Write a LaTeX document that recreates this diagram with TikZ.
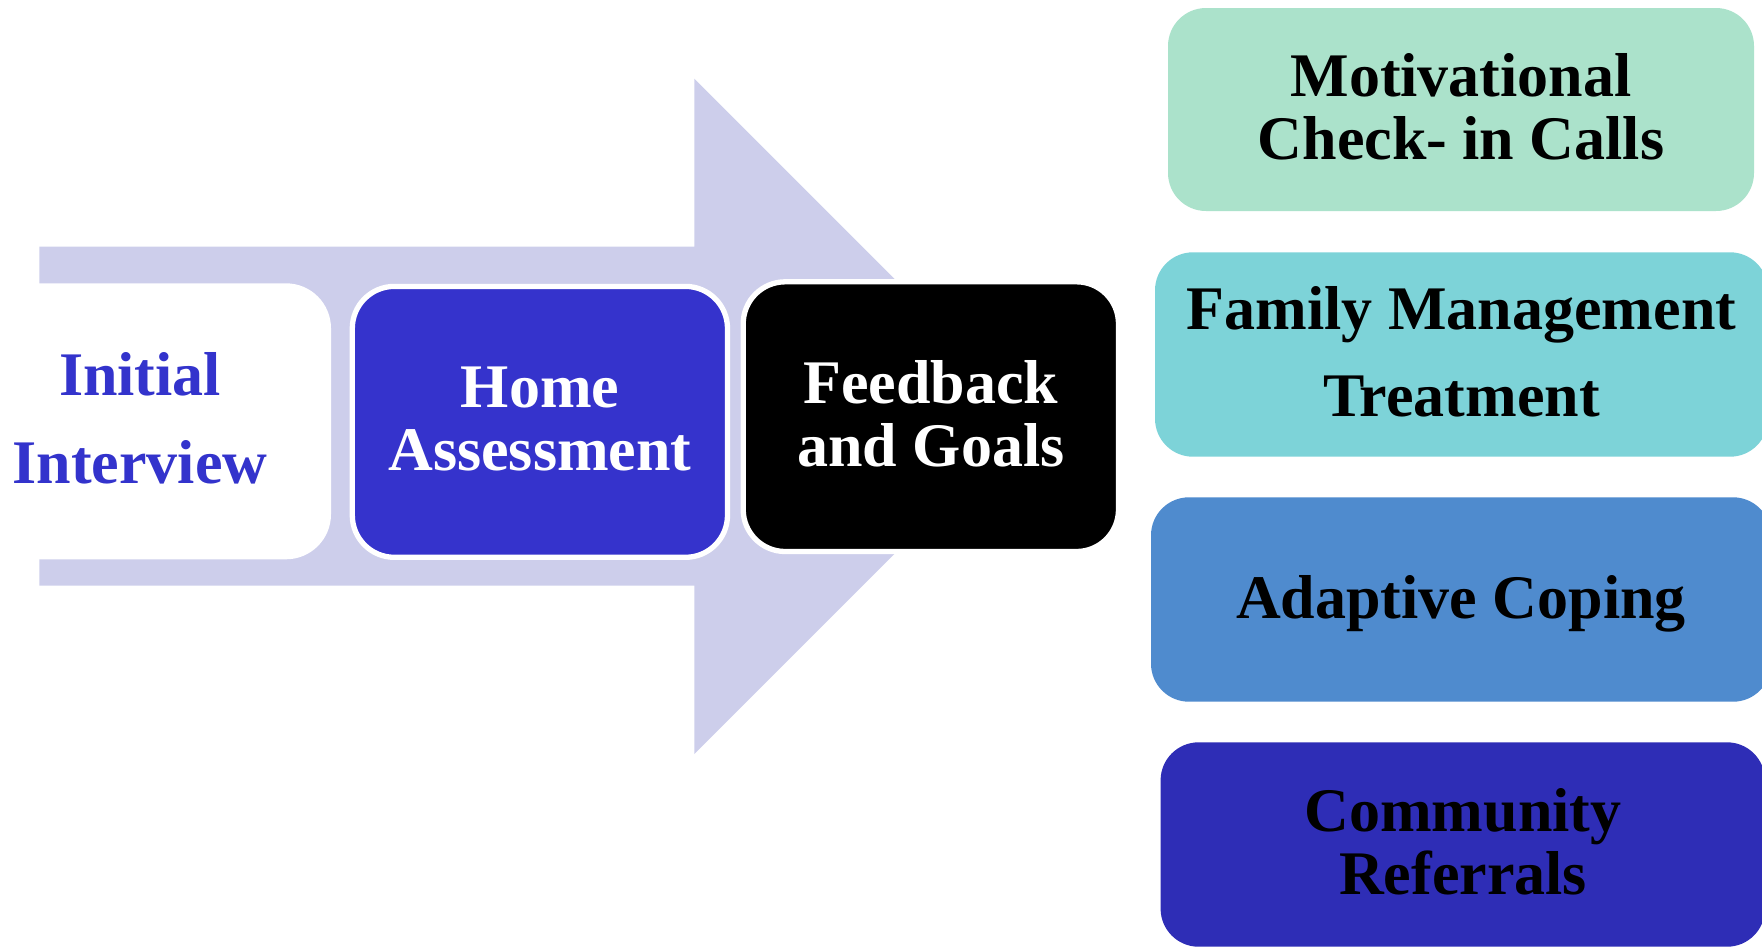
\documentclass[tikz,border=0pt]{standalone}
\usepackage{fontspec}
\setmainfont{Liberation Serif}
\definecolor{arrowfill}{RGB}{205,206,235}
\definecolor{stageblue}{RGB}{53,51,204}
\definecolor{inittext}{RGB}{51,51,204}
\definecolor{mint}{RGB}{171,226,203}
\definecolor{aqua}{RGB}{125,211,216}
\definecolor{skyblue}{RGB}{79,139,206}
\definecolor{deepblue}{RGB}{46,45,182}
\begin{document}
\begin{tikzpicture}[x=1pt,y=-1pt,
  lbl/.style={align=center, inner sep=0pt},
  card/.style={rectangle, rounded corners=38pt, inner sep=0pt, outer sep=0pt},
  stage/.style={rectangle, rounded corners=42pt, draw=white, line width=5.3pt, inner sep=0pt, outer sep=0pt}]
\useasboundingbox (0,0) rectangle (1762,946);

% big process arrow in the background
\fill[arrowfill] (39.3,246.7) -- (694.4,246.7) -- (694.4,78.7) -- (1032,416.35)
  -- (694.4,754) -- (694.4,585.7) -- (39.3,585.7) -- cycle;

% three stages along the arrow
\node[card, fill=white, rounded corners=45pt, minimum width=391pt, minimum height=276pt] (initbox) at (135.5,421.3) {};
\node[stage, fill=stageblue, minimum width=375.2pt, minimum height=270.9pt] (homebox) at (539.9,421.85) {};
\node[stage, fill=black, minimum width=375.3pt, minimum height=269.7pt] (feedbox) at (930.85,416.65) {};

\node[lbl, text=inittext, font=\fontsize{62}{88}\selectfont\bfseries] (initlbl) at (140,418.7) {Initial\\Interview};
\node[lbl, text=white, font=\fontsize{62}{63}\selectfont\bfseries] (homelbl) at (540,419) {Home\\Assessment};
\node[lbl, text=white, font=\fontsize{62}{63}\selectfont\bfseries] (feedlbl) at (931,414) {Feedback\\and Goals};

% follow-up components on the right
\node[card, fill=mint, minimum width=586pt, minimum height=203pt] (motivbox) at (1461,109.5) {};
\node[card, fill=aqua, minimum width=613pt, minimum height=204.4pt] (fambox) at (1461.5,354.5) {};
\node[card, fill=skyblue, minimum width=620pt, minimum height=204.4pt] (adaptbox) at (1461,599.5) {};
\node[card, fill=deepblue, minimum width=604.4pt, minimum height=204.4pt] (commbox) at (1462.8,844.5) {};

\node[lbl, text=black, font=\fontsize{62}{62.6}\selectfont\bfseries] (motivlbl) at (1461,107) {Motivational\\Check- in Calls};
\node[lbl, text=black, font=\fontsize{62}{87.4}\selectfont\bfseries] (famlbl) at (1461.5,352) {Family Management\\Treatment};
\node[lbl, text=black, font=\fontsize{62}{62}\selectfont\bfseries] (adaptlbl) at (1461,604) {Adaptive Coping};
\node[lbl, text=black, font=\fontsize{62}{62.3}\selectfont\bfseries] (commlbl) at (1463,841.9) {Community\\Referrals};
\end{tikzpicture}
\end{document}
